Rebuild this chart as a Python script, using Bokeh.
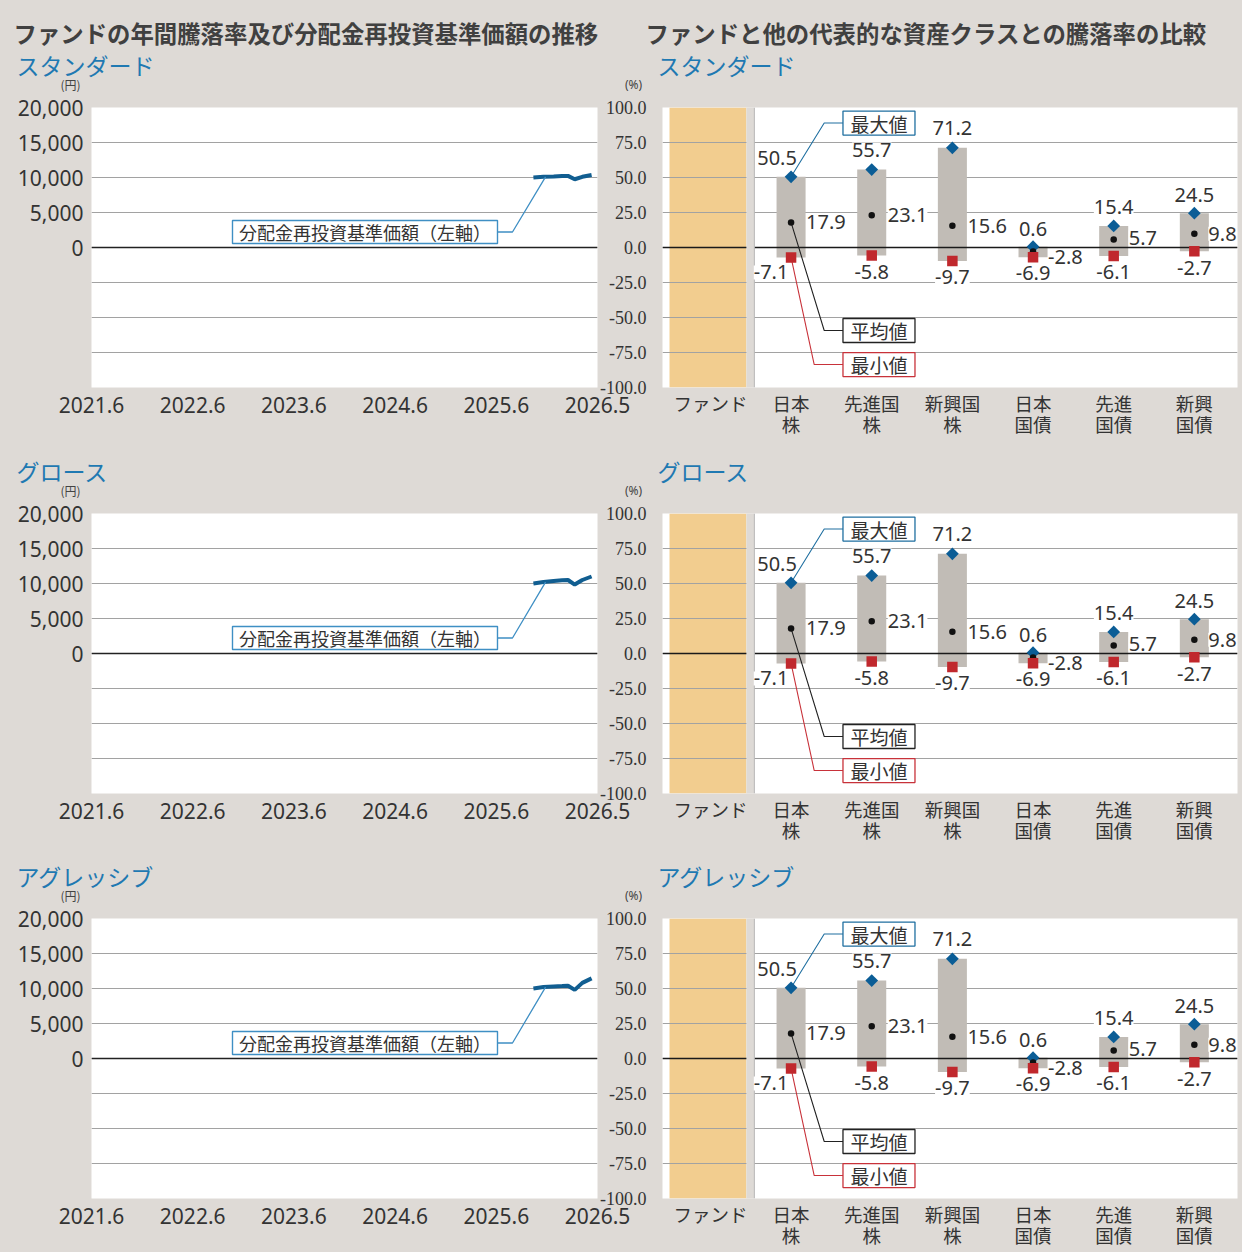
import numpy as np
from bokeh.plotting import figure
from bokeh.models import (Range1d, FixedTicker, ColumnDataSource, LabelSet, BoxAnnotation,
                          Span, PrintfTickFormatter, NumeralTickFormatter)
from bokeh.layouts import column, row
from bokeh.core.properties import value
from bokeh.embed import file_html
from bokeh.resources import INLINE

# ---------------- data ----------------
left_title = "ファンドの年間騰落率及び分配金再投資基準価額の推移"
right_title = "ファンドと他の代表的な資産クラスとの騰落率の比較"
section_titles = ["スタンダード", "グロース", "アグレッシブ"]

date_ticks = [0, 12, 24, 36, 48, 60]          # months counted from 2021.6 (axis positions)
date_labels = ["2021.6", "2022.6", "2023.6", "2024.6", "2025.6", "2026.5"]
nav_month = [52.4, 53.6, 54.8, 55.8, 56.5, 57.3, 58.2, 59.3]
nav_standard = [10000, 10100, 10150, 10200, 10230, 9750, 10100, 10350]
nav_growth = [10000, 10200, 10350, 10450, 10500, 9850, 10500, 11000]
nav_aggressive = [10000, 10200, 10300, 10350, 10400, 9800, 10800, 11450]
nav_series = [nav_standard, nav_growth, nav_aggressive]
nav_label = "分配金再投資基準価額（左軸）"

yen_ticks = [0, 5000, 10000, 15000, 20000]
yen_grid = [-20000, -15000, -10000, -5000, 0, 5000, 10000, 15000, 20000]
pct_ticks = [-100.0, -75.0, -50.0, -25.0, 0.0, 25.0, 50.0, 75.0, 100.0]

asset_labels = ["ファンド", "日本\n株", "先進国\n株", "新興国\n株", "日本\n国債", "先進\n国債", "新興\n国債"]
asset_max = [50.5, 55.7, 71.2, 0.6, 15.4, 24.5]
asset_avg = [17.9, 23.1, 15.6, -2.8, 5.7, 9.8]
asset_min = [-7.1, -5.8, -9.7, -6.9, -6.1, -2.7]
callout_texts = ["最大値", "平均値", "最小値"]

# ---------------- styles / layout ----------------
BG = "#dedad6"
GRID = "#a2a2a2"
ORANGE = "#f2cd8f"
BAR = "#c1bcb6"
BLUE = "#0b5d96"
RED = "#c0282d"
NAV = "#115e91"
CALL_BLUE = "#3f8fc4"
SUB_BLUE = "#1f79b2"
TXT = "#333333"
JP = "Noto Sans CJK JP"
NUM = "Noto Sans"
NARROW = "Liberation Sans Narrow"

W_LEFT, W_RIGHT, OVERLAP = 661, 645, 64
FRAME_H, TOP_B, BOTTOM_B = 280, 15, 54
# header heights and the y of (title, subtitle, unit) inside each header
HEADERS = [(92, 32, 64.5, 84), (57, None, 29.5, 48.5), (56, None, 28.5, 47.5)]


def header(h, title_y, sub_y, unit_y, sub):
    p = figure(width=1242, height=h, x_range=Range1d(0, 1242), y_range=Range1d(h, 0),
               output_backend="svg", toolbar_location=None, title=None, min_border=0,
               x_axis_type=None, y_axis_type=None, background_fill_color=None,
               border_fill_color=None, outline_line_color=None)
    p.grid.visible = False

    def t(x, y, s, size, color, style="normal", align="left", font=JP):
        p.text(x=[x], y=[y], text=[s], text_font=value(font), text_font_size=value(size),
               text_color=color, text_font_style=style, text_align=align, text_baseline="middle")

    if title_y is not None:
        t(13, title_y, left_title, "23.4px", "#404040", "bold")
        t(645, title_y, right_title, "23.4px", "#404040", "bold")
    t(16, sub_y, sub, "23px", SUB_BLUE)
    t(657, sub_y, sub, "23px", SUB_BLUE)
    t(70, unit_y, "(円)", "12px", "#444444", align="center")
    t(633, unit_y, "(%)", "12px", "#444444", align="center", font=NUM)
    return p


def style_axis(ax):
    ax.axis_line_color = None
    ax.major_tick_line_color = None
    ax.minor_tick_line_color = None
    ax.major_tick_out = 0
    ax.major_tick_in = 0
    ax.minor_tick_out = 0
    ax.major_label_text_color = TXT


def left_chart(nav):
    p = figure(width=W_LEFT, height=TOP_B + FRAME_H + BOTTOM_B,
               x_range=Range1d(0, 60), y_range=Range1d(-20000, 20000),
               output_backend="svg", toolbar_location=None, title=None,
               min_border_left=91, min_border_right=OVERLAP, min_border_top=TOP_B,
               min_border_bottom=BOTTOM_B, background_fill_color="white",
               border_fill_color=None, outline_line_color=None)
    p.xgrid.visible = False
    p.ygrid.ticker = FixedTicker(ticks=yen_grid)
    p.ygrid.grid_line_color = GRID
    p.yaxis.ticker = FixedTicker(ticks=yen_ticks)
    p.yaxis.formatter = NumeralTickFormatter(format="0,0")
    p.xaxis.ticker = FixedTicker(ticks=date_ticks)
    p.xaxis.major_label_overrides = {k: v for k, v in zip(date_ticks, date_labels)}
    for ax in (p.xaxis[0], p.yaxis[0]):
        style_axis(ax)
        ax.major_label_text_font = NUM
        ax.major_label_text_font_size = "21px"
    p.yaxis.major_label_standoff = 8
    p.xaxis.major_label_standoff = 9

    p.line(nav_month, nav, line_width=4, line_color=NAV)

    # callout for the line
    bx, by = 32.43, 2214
    p.line([48.14, 49.92, 53.84], [by, by, nav[1]], line_color=CALL_BLUE, line_width=1.3)
    p.rect(x=[bx], y=[by], width=265, height=23, width_units="screen", height_units="screen",
           fill_color="white", line_color=CALL_BLUE, line_width=1.4)
    p.text(x=[bx], y=[by], text=[nav_label], text_font=value(JP), text_font_size="18px",
           text_color=TXT, text_align="center", text_baseline="middle")
    p.add_layout(Span(location=0, dimension="width", line_color="#222222", line_width=1.5))
    return p


def right_chart():
    p = figure(width=W_RIGHT, height=TOP_B + FRAME_H + BOTTOM_B,
               x_range=Range1d(-0.594, 6.535), y_range=Range1d(-100, 100),
               output_backend="svg", toolbar_location=None, title=None,
               min_border_left=OVERLAP, min_border_right=5, min_border_top=TOP_B,
               min_border_bottom=BOTTOM_B, background_fill_color="white",
               border_fill_color=None, outline_line_color=None,
               margin=(0, 0, 0, -OVERLAP))
    p.xgrid.visible = False
    p.ygrid.ticker = FixedTicker(ticks=pct_ticks)
    p.ygrid.grid_line_color = GRID
    p.yaxis.ticker = FixedTicker(ticks=pct_ticks)
    p.yaxis.formatter = PrintfTickFormatter(format="%.1f")
    p.xaxis.ticker = FixedTicker(ticks=list(range(len(asset_labels))))
    p.xaxis.major_label_overrides = {i: s for i, s in enumerate(asset_labels)}
    for ax in (p.xaxis[0], p.yaxis[0]):
        style_axis(ax)
    p.yaxis.major_label_text_font = NARROW
    p.yaxis.major_label_text_font_size = "18px"
    p.yaxis.major_label_standoff = 16
    p.xaxis.major_label_text_font = JP
    p.xaxis.major_label_text_font_size = "18.5px"
    p.xaxis.major_label_text_line_height = 0.82
    p.xaxis.major_label_standoff = 2

    # fund panel background (below grid)
    p.add_layout(BoxAnnotation(left=-0.507, right=0.446, fill_color=ORANGE, fill_alpha=1.0,
                               line_color=None, level="image"))

    xs = list(range(1, len(asset_max) + 1))
    p.vbar(x=xs, width=0.36, top=asset_max, bottom=asset_min, fill_color=BAR, line_color=None)
    p.segment(x0=[p.x_range.start], y0=[0], x1=[p.x_range.end], y1=[0],
              line_color="#1a1a1a", line_width=1.5)
    # gap between fund panel and asset panel
    p.quad(left=[0.446], right=[0.545], bottom=[-102], top=[102], fill_color=BG, line_color=None)
    p.segment(x0=[0.545], y0=[-100], x1=[0.545], y1=[100], line_color="#b8b8b8", line_width=1)

    # callouts
    cx = 2.09
    callouts = [
        (88.9, 1.411, asset_max[0], "#1f6fa0"),
        (-59.3, 1.411, asset_avg[0], "#222222"),
        (-83.6, 1.287, asset_min[0], "#c8323a"),
    ]
    for (cy, kx, target, col) in callouts:
        p.line([1.646, kx, xs[0]], [cy, cy, target], line_color=col, line_width=1.1)

    p.scatter(xs, asset_max, marker="square", angle=np.pi / 4, size=9, fill_color=BLUE, line_color=None)
    p.scatter(xs, asset_avg, marker="circle", size=6.5, fill_color="#111111", line_color=None)
    p.scatter(xs, asset_min, marker="square", size=10.5, fill_color=RED, line_color=None)

    for (cy, kx, target, col), txt in zip(callouts, callout_texts):
        p.rect(x=[cx], y=[cy], width=72, height=24, width_units="screen", height_units="screen",
               fill_color="white", line_color=col, line_width=1.3)
        p.text(x=[cx], y=[cy], text=[txt], text_font=value(JP), text_font_size="19px",
               text_color=TXT, text_align="center", text_baseline="middle")

    def labels(vals, dx, dy, align):
        src = ColumnDataSource(dict(x=xs, y=vals, t=[f"{v:.1f}" for v in vals], dx=dx, dy=dy))
        p.add_layout(LabelSet(x="x", y="y", text="t", x_offset="dx", y_offset="dy", source=src,
                              text_align=align, text_baseline="middle", text_font=value(NUM),
                              text_font_size="20px", text_color=TXT,
                              background_fill_color="white"))

    labels(asset_max, [-14, 0, 0, 0, 0, 0], [19, 20, 20, 18, 19, 18], "center")
    labels(asset_avg, [15, 16, 15, 15, 15, 14], [0, 0, 0, -6, 2, 0], "left")
    labels(asset_min, [-20, 0, 0, 0, 0, 0], [-15, -16, -16, -16, -16, -17], "center")
    return p


children = []
for i in range(3):
    h, ty, sy, uy = HEADERS[i]
    children.append(header(h, ty, sy, uy, section_titles[i]))
    children.append(row(left_chart(nav_series[i]), right_chart()))

page = column(*children, styles={"background-color": BG})
open("out.html", "w").write(file_html(page, INLINE))
